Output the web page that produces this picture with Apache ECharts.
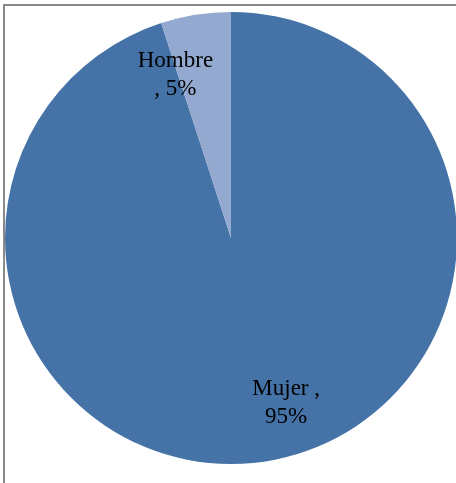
<!DOCTYPE html>
<html>
<head>
<meta charset="utf-8">
<script src="https://cdn.jsdelivr.net/npm/echarts@6/dist/echarts.min.js"></script>
<style>
html,body{margin:0;padding:0;background:#fff;}
#main{width:456px;height:483px;}
</style>
</head>
<body>
<div id="main"></div>
<script>
var categories = ['Mujer', 'Hombre'];
var values = [95, 5];
var labelTexts = ['Mujer ,\n95%', 'Hombre\n, 5%'];
var colors = ['#4573A7', '#94A9D0'];
// label offsets from pie centre (fractions of radius), as Excel placed them
var labelOffsets = [[0.244, 0.732], [-0.246, -0.723]];

var cx = 231, cy = 238, r = 226;
var chart = echarts.init(document.getElementById('main'));
chart.setOption({
  animation: false,
  graphic: [{
    type: 'rect',
    shape: {x: 4, y: 5, width: 600, height: 600},
    style: {fill: 'none', stroke: '#8a8a8a', lineWidth: 2},
    z: 10
  }],
  series: [{
    type: 'pie',
    center: [cx, cy],
    radius: [0, r],
    startAngle: 90,
    clockwise: true,
    itemStyle: {borderWidth: 0},
    label: {
      show: true,
      position: 'inside',
      formatter: function (p) { return labelTexts[p.dataIndex]; },
      fontFamily: 'Liberation Serif',
      fontSize: 23,
      lineHeight: 28,
      color: '#000',
      align: 'center'
    },
    labelLayout: function (p) {
      var o = labelOffsets[p.dataIndex];
      return {x: cx + o[0] * r, y: cy + o[1] * r, align: 'center', verticalAlign: 'middle'};
    },
    emphasis: {disabled: true},
    data: categories.map(function (c, i) {
      return {name: c, value: values[i], itemStyle: {color: colors[i]}};
    })
  }]
});
</script>
</body>
</html>
